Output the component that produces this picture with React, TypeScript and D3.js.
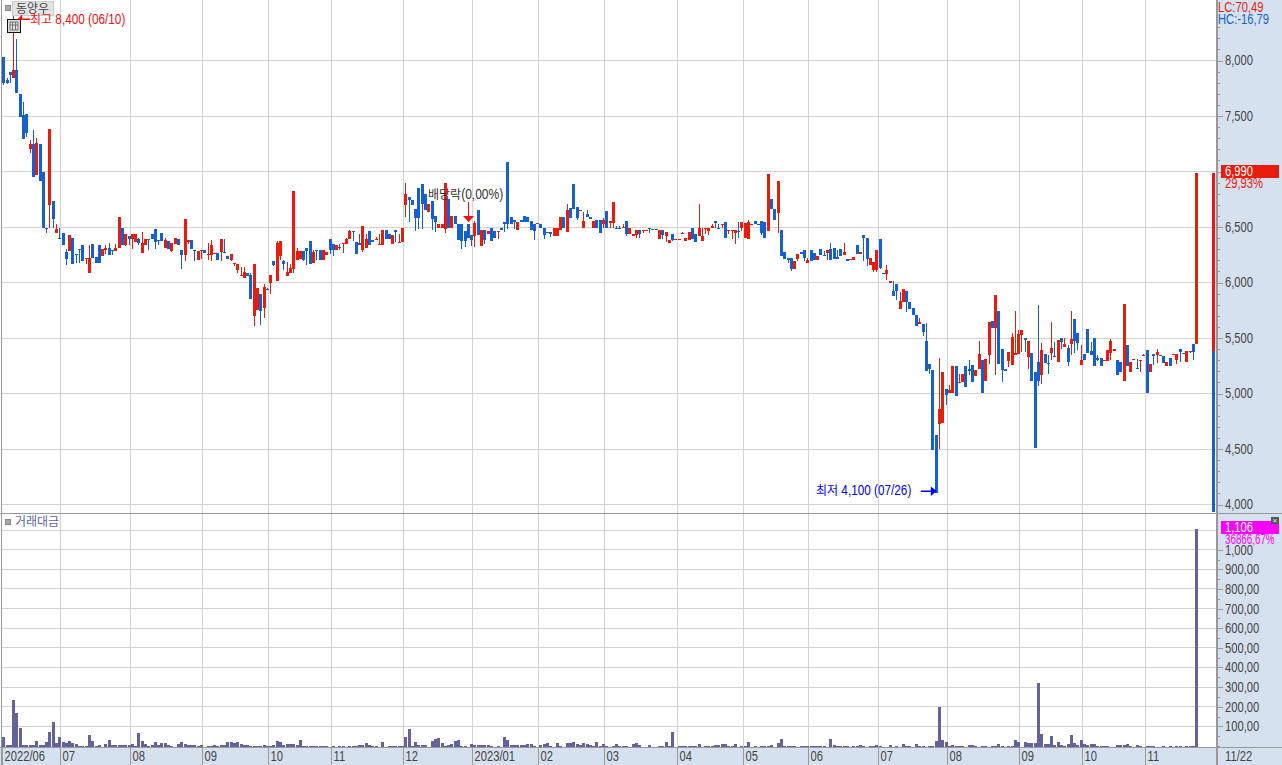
import * as d3 from "d3";
import { useEffect, useRef } from "react";

// prices, one value per trading day
const opens = [
  8030,7820,7900,7845,7910,7700,7510,7520,7200,7250,
  6970,7250,7000,6495,6700,6730,6445,6405,6450,6275,
  6280,6405,6260,6305,6340,6210,6085,6350,6230,6340,
  6240,6295,6315,6295,6285,6315,6490,6340,6420,6395,
  6365,6395,6265,6335,6395,6435,6480,6385,6450,6310,
  6370,6285,6350,6395,6290,6245,6365,6380,6295,6200,
  6285,6290,6250,6250,6265,6270,6275,6275,6240,6200,
  6170,6117,6055,6037,6082,6072,5694,5748,5892,5766,
  5937,5991,6198,6018,6243,6198,6055,6090,6126,6207,
  6216,6282,6315,6370,6175,6295,6289,6199,6247,6388,
  6349,6289,6322,6346,6346,6391,6460,6364,6352,6289,
  6310,6460,6385,6379,6340,6337,6469,6439,6343,6469,
  6355,6361,6694,6766,6739,6661,6847,6883,6799,6634,
  6733,6598,6493,6493,6484,6754,6493,6595,6523,6523,
  6460,6523,6424,6421,6649,6325,6469,6439,6493,6460,
  6451,6493,6541,7090,6586,6565,6469,6565,6595,6586,
  6550,6529,6523,6523,6487,6454,6457,6415,6415,6469,
  6586,6454,6673,6883,6679,6650,6487,6619,6592,6487,
  6559,6559,6529,6640,6532,6535,6493,6493,6493,6550,
  6439,6415,6424,6475,6470,6472,6493,6485,6484,6388,
  6469,6415,6352,6433,6392,6392,6437,6370,6385,6493,
  6439,6415,6370,6478,6460,6487,6550,6493,6523,6541,
  6463,6469,6445,6468,6490,6397,6388,6514,6550,6525,
  6550,6541,6460,6748,6664,6622,6469,6271,6217,6217,
  6118,6208,6271,6289,6172,6289,6262,6199,6298,6252,
  6262,6298,6307,6229,6298,6244,6208,6202,6199,6334,
  6253,6424,6397,6160,6109,6109,6388,6090,6073,5994,
  5919,5982,5757,5820,5919,5820,5766,5703,5622,5622,
  5469,5262,5208,4630,4728,4737,5037,5001,5001,5244,
  5091,5100,5244,5217,5253,5154,5217,5298,5109,5343,
  5649,5586,5739,5397,5217,5289,5253,5346,5352,5523,
  5496,5325,5361,5190,5280,5163,5352,5274,5361,5340,
  5280,5496,5415,5406,5442,5667,5541,5253,5352,5577,
  5379,5496,5316,5316,5289,5289,5361,5379,5298,5280,
  5109,5433,5190,5298,5226,5289,5334,5388,5190,5352,
  5343,5343,5334,5244,5316,5343,5298,5397,5361,5280,
  5370,5442,5442,
];
const closes = [
  7800,7800,7870,7910,7705,7490,7290,7345,7250,6950,
  7260,6915,6495,6490,7380,6575,6480,6400,6335,6215,
  6425,6165,6245,6290,6190,6225,6225,6220,6175,6180,
  6300,6310,6245,6285,6315,6590,6340,6435,6390,6435,
  6435,6360,6355,6395,6390,6390,6365,6370,6370,6380,
  6305,6360,6400,6340,6245,6575,6380,6305,6285,6285,
  6290,6265,6260,6335,6270,6205,6390,6270,6215,6255,
  6180,6171,6072,6091,6055,5847,6171,5946,5739,5955,
  5928,6072,6162,6352,6370,6171,6099,6135,6820,6282,
  6282,6207,6288,6171,6271,6283,6199,6295,6271,6289,
  6289,6337,6316,6352,6391,6463,6451,6253,6334,6505,
  6388,6340,6361,6391,6345,6469,6391,6391,6427,6457,
  6364,6493,6793,6745,6697,6577,6577,6709,6649,6709,
  6574,6541,6523,6523,6898,6493,6598,6523,6379,6373,
  6376,6403,6379,6535,6424,6469,6379,6460,6373,6397,
  6460,6469,6523,6523,6529,6544,6544,6541,6541,6541,
  6469,6463,6532,6487,6424,6450,6439,6493,6493,6589,
  6493,6649,6583,6661,6583,6655,6553,6589,6568,6553,
  6493,6445,6565,6490,6550,6721,6490,6490,6502,6439,
  6493,6439,6475,6433,6475,6475,6481,6480,6469,6475,
  6427,6451,6379,6385,6394,6394,6442,6397,6451,6391,
  6361,6493,6421,6493,6493,6505,6532,6490,6529,6397,
  6475,6475,6475,6465,6541,6532,6541,6529,6523,6520,
  6442,6397,6973,6658,6559,6910,6235,6208,6199,6118,
  6190,6253,6253,6217,6199,6190,6199,6241,6244,6248,
  6289,6199,6214,6208,6241,6271,6190,6208,6226,6253,
  6271,6397,6208,6217,6181,6289,6130,6085,6109,6018,
  5874,5919,5829,5937,5826,5757,5703,5604,5640,5550,
  5199,5217,4488,4100,4857,5190,4983,5028,5244,4974,
  5100,5172,5055,5199,5100,5208,5352,5001,5307,5640,
  5586,5883,5262,5208,5199,5370,5505,5361,5532,5568,
  5478,5469,5109,4506,5109,5388,5271,5268,5406,5334,
  5478,5460,5442,5280,5487,5469,5451,5298,5298,5361,
  5343,5244,5298,5244,5298,5388,5469,5397,5163,5190,
  5802,5244,5280,5307,5220,5298,5343,5001,5262,5334,
  5370,5334,5271,5280,5244,5352,5352,5370,5352,5379,
  5379,5370,6990,
];
const highs = [
  8030,7840,7900,8400,8195,7700,7630,7520,7285,7370,
  7300,7250,7000,6495,7380,6730,6530,6495,6450,6300,
  6430,6405,6260,6305,6340,6225,6340,6350,6230,6340,
  6300,6340,6355,6295,6350,6590,6490,6435,6420,6435,
  6435,6405,6455,6395,6395,6435,6480,6385,6450,6400,
  6370,6360,6400,6395,6290,6575,6380,6380,6295,6285,
  6290,6290,6360,6385,6270,6270,6390,6390,6240,6255,
  6180,6171,6138,6138,6082,6082,6171,5946,5892,5982,
  5949,6072,6198,6370,6370,6207,6189,6168,6820,6315,
  6282,6282,6315,6370,6295,6295,6289,6295,6271,6388,
  6349,6337,6343,6352,6400,6475,6460,6364,6439,6505,
  6439,6460,6385,6409,6439,6469,6469,6439,6427,6469,
  6439,6493,6895,6766,6739,6661,6847,6883,6799,6709,
  6733,6598,6523,6530,6898,6754,6598,6595,6523,6523,
  6460,6523,6424,6550,6649,6469,6469,6460,6493,6460,
  6460,6493,6541,7090,6586,6565,6544,6565,6595,6586,
  6550,6529,6532,6523,6487,6454,6457,6493,6493,6589,
  6586,6703,6673,6883,6679,6655,6634,6649,6592,6553,
  6559,6559,6577,6640,6550,6721,6505,6505,6523,6550,
  6493,6439,6475,6475,6475,6475,6493,6485,6484,6475,
  6469,6451,6379,6433,6394,6394,6451,6403,6451,6493,
  6439,6703,6493,6493,6493,6529,6550,6529,6529,6541,
  6475,6475,6475,6541,6541,6532,6559,6529,6550,6525,
  6550,6541,6973,6748,6664,6910,6469,6271,6217,6217,
  6190,6253,6271,6289,6217,6289,6262,6241,6298,6280,
  6289,6352,6307,6289,6298,6352,6208,6208,6226,6334,
  6271,6424,6397,6217,6181,6289,6388,6090,6154,6018,
  6018,5982,5910,5937,5919,5820,5766,5703,5676,5622,
  5631,5262,5208,4630,5316,5190,5037,5073,5244,5244,
  5172,5172,5244,5298,5253,5208,5469,5298,5307,5640,
  5649,5883,5739,5397,5217,5370,5541,5739,5568,5568,
  5496,5469,5361,5190,5793,5451,5352,5343,5640,5460,
  5478,5496,5496,5433,5739,5667,5541,5433,5352,5577,
  5460,5496,5343,5316,5298,5388,5487,5397,5298,5280,
  5802,5433,5280,5307,5307,5298,5352,5388,5262,5352,
  5397,5343,5334,5280,5316,5352,5352,5397,5361,5379,
  5379,5442,6990,
];
const lows = [
  7780,7790,7800,7840,7705,7490,7290,7310,7165,6950,
  6970,6915,6495,6445,6490,6490,6445,6400,6335,6155,
  6280,6165,6175,6180,6190,6170,6085,6220,6175,6180,
  6240,6255,6245,6250,6285,6315,6340,6330,6335,6305,
  6365,6335,6265,6335,6290,6390,6305,6340,6370,6310,
  6305,6275,6350,6340,6125,6195,6350,6305,6195,6200,
  6215,6265,6200,6190,6265,6205,6190,6270,6215,6190,
  6150,6090,6055,6037,6055,5847,5604,5748,5613,5676,
  5928,5892,6153,6018,6207,6117,6055,6090,6090,6207,
  6216,6198,6162,6171,6175,6199,6199,6199,6247,6259,
  6241,6289,6289,6265,6346,6391,6373,6253,6334,6274,
  6310,6340,6361,6379,6340,6337,6391,6391,6343,6364,
  6355,6361,6589,6544,6697,6463,6484,6484,6649,6634,
  6469,6454,6493,6493,6445,6493,6493,6523,6379,6301,
  6319,6403,6325,6319,6424,6325,6343,6439,6373,6397,
  6394,6469,6451,6484,6529,6484,6469,6541,6541,6541,
  6469,6385,6523,6487,6391,6450,6409,6415,6415,6469,
  6493,6454,6583,6661,6565,6650,6487,6589,6568,6487,
  6493,6445,6487,6490,6487,6487,6490,6490,6493,6415,
  6439,6415,6400,6400,6445,6472,6445,6480,6469,6388,
  6388,6364,6352,6373,6392,6392,6437,6370,6385,6391,
  6361,6415,6370,6439,6424,6487,6490,6490,6487,6397,
  6439,6388,6343,6397,6460,6397,6388,6514,6523,6520,
  6430,6397,6460,6658,6559,6445,6235,6208,6175,6103,
  6118,6193,6253,6190,6172,6190,6199,6199,6244,6248,
  6199,6199,6214,6208,6241,6244,6190,6202,6199,6253,
  6253,6190,6145,6160,6091,6091,6118,6085,6019,5994,
  5874,5838,5757,5820,5730,5757,5703,5604,5622,5514,
  5199,5172,4488,4100,4497,4737,4893,5001,5001,4974,
  5091,5100,5055,5163,5100,5154,5217,5001,5109,5262,
  5586,5163,5262,5103,5199,5238,5253,5346,5352,5370,
  5373,5217,5109,4506,5064,5088,5271,5178,5298,5325,
  5280,5397,5415,5244,5343,5361,5388,5253,5298,5361,
  5343,5244,5289,5244,5289,5289,5298,5379,5163,5190,
  5109,5244,5190,5298,5220,5193,5334,5001,5190,5253,
  5271,5334,5271,5244,5244,5343,5268,5280,5352,5280,
  5361,5298,5442,
];

// 거래대금 per trading day, 0 means no bar was visible
const turnover = [
  44,7,3,232,167,94,7,5,3,7,
  27,3,7,22,73,124,14,48,19,14,
  27,15,12,2,2,2,58,24,2,7,
  0,10,32,5,3,3,3,3,3,12,
  1,68,27,10,2,5,22,5,14,14,
  5,1,0,10,22,10,5,3,3,2,
  3,0,1,1,7,2,7,3,19,19,
  17,22,8,5,3,2,1,1,1,7,
  1,2,7,27,19,7,10,10,10,7,
  32,2,2,2,2,1,1,2,2,0,
  1,0,1,1,0,1,2,2,3,3,
  17,4,2,2,0,22,0,2,1,1,
  1,1,48,87,1,22,4,4,7,0,
  24,37,43,14,1,7,10,24,31,2,
  1,0,12,4,5,7,5,7,1,0,
  1,0,48,32,5,7,7,4,4,10,
  12,2,0,3,10,17,1,0,17,2,
  0,17,14,22,8,7,17,10,7,1,
  22,1,12,1,0,1,10,2,2,1,
  0,10,15,7,0,0,7,0,0,2,
  1,22,1,73,0,1,1,2,1,1,
  1,12,0,1,1,1,7,7,12,12,
  2,2,12,0,2,1,22,0,1,0,
  1,1,1,7,0,17,37,2,2,2,
  2,0,1,2,2,2,2,1,1,1,
  0,37,7,1,2,1,1,0,1,2,
  7,1,0,1,2,7,1,0,0,7,
  0,1,0,12,2,1,0,12,2,1,
  0,1,2,27,201,32,22,1,7,2,
  1,2,0,7,7,2,0,2,2,0,
  2,2,12,2,0,2,1,32,20,0,
  22,17,17,17,320,63,8,12,53,7,
  22,7,2,12,58,17,7,32,12,7,
  10,10,2,1,1,2,0,0,7,4,
  4,12,2,0,7,1,0,1,1,1,
  0,0,2,0,2,0,2,1,0,1,
  1,2,1106,
];

const monthStarts = [0, 18, 39, 61, 81, 100, 122, 143, 163, 183, 205, 225, 245, 266, 287, 309, 328, 347];
const monthLabels = ["2022/06", "07", "08", "09", "10", "11", "12", "2023/01", "02", "03", "04", "05", "06", "07", "08", "09", "10", "11"];
const priceTicks = [4000, 4500, 5000, 5500, 6000, 6500, 7000, 7500, 8000];
const turnoverTicks = [100, 200, 300, 400, 500, 600, 700, 800, 900, 1000];

const RED = "#e81c0c";
const BLUE = "#1560cf";
const VIOLET = "#63639c";
const PANEL = "#d6e1f0";
const GRID = "#d3d3d3";
const EDGE = "#999";
const FONT = "'Liberation Sans', sans-serif";
const KR_FONT = "'Noto Sans CJK KR', sans-serif";

// 원본 글자는 좁고 높아서 가로로 눌러서 맞춘다
function squeeze(node: SVGTextElement, factor: number) {
  const w = node.getComputedTextLength();
  if (w > 0) {
    node.setAttribute("textLength", String(w * factor));
    node.setAttribute("lengthAdjust", "spacingAndGlyphs");
  }
  return w * factor;
}

export default function App() {
  const svgRef = useRef<SVGSVGElement>(null);

  useEffect(() => {
    if (!svgRef.current) return;
    const svg = d3.select(svgRef.current);
    svg.selectAll("*").remove();

    const plotRight = 1216;
    const x = d3.scaleLinear().domain([0, 362]).range([3.3, 1196.1]);
    const yPrice = d3.scaleLinear().domain([4000, 8000]).range([504.5, 60.5]);
    const yTurn = d3.scaleLinear().domain([0, 1000]).range([746, 549.7]);
    const crisp = (v: number) => Math.floor(v) + 0.5;
    const monthX = (i: number) => (i === 0 ? 2 : x(i - 0.5));

    // 오른쪽 / 아래 패널
    svg.append("rect").attr("x", 1216).attr("y", 0).attr("width", 66).attr("height", 765).attr("fill", PANEL);
    svg.append("rect").attr("x", 0).attr("y", 748).attr("width", 1282).attr("height", 17).attr("fill", PANEL);

    // 격자
    const grid = svg.append("g").attr("stroke", GRID).attr("shape-rendering", "crispEdges");
    priceTicks.forEach((p) => {
      grid.append("line").attr("x1", 2).attr("x2", plotRight).attr("y1", crisp(yPrice(p))).attr("y2", crisp(yPrice(p)));
    });
    [...turnoverTicks, 1100].forEach((v) => {
      grid.append("line").attr("x1", 2).attr("x2", plotRight).attr("y1", crisp(yTurn(v))).attr("y2", crisp(yTurn(v)));
    });
    monthStarts.slice(1).forEach((m) => {
      const mx = crisp(monthX(m));
      grid.append("line").attr("x1", mx).attr("x2", mx).attr("y1", 0).attr("y2", 747);
    });

    // 캔들
    const candles = svg.append("g").attr("shape-rendering", "crispEdges");
    opens.forEach((o, i) => {
      const c = closes[i];
      const color = c >= o ? RED : BLUE;
      const cx = Math.round(x(i));
      candles
        .append("rect")
        .attr("x", cx)
        .attr("width", 1)
        .attr("y", yPrice(highs[i]))
        .attr("height", Math.max(1, yPrice(lows[i]) - yPrice(highs[i])))
        .attr("fill", color);
      candles
        .append("rect")
        .attr("x", cx - 1)
        .attr("width", 3)
        .attr("y", yPrice(Math.max(o, c)))
        .attr("height", Math.max(1, Math.abs(yPrice(o) - yPrice(c))))
        .attr("fill", color);
    });

    // 오른쪽 끝 현재가 막대
    const rangeX = x(367.3);
    svg.append("rect").attr("x", rangeX - 1.5).attr("width", 3).attr("y", yPrice(6990)).attr("height", yPrice(5380) - yPrice(6990)).attr("fill", RED).attr("shape-rendering", "crispEdges");
    svg.append("rect").attr("x", rangeX - 1.5).attr("width", 3).attr("y", yPrice(5380)).attr("height", yPrice(3930) - yPrice(5380)).attr("fill", BLUE).attr("shape-rendering", "crispEdges");

    // 거래대금 막대
    svg
      .append("g")
      .attr("shape-rendering", "crispEdges")
      .selectAll("rect")
      .data(turnover)
      .join("rect")
      .attr("x", (_, i) => Math.round(x(i)) - 1)
      .attr("width", 3)
      .attr("y", (d) => yTurn(d))
      .attr("height", (d) => (d > 0 ? 747 - yTurn(d) : 0))
      .attr("fill", VIOLET);

    // 테두리
    const frame = svg.append("g").attr("stroke", EDGE).attr("shape-rendering", "crispEdges");
    frame.append("line").attr("x1", 1.5).attr("x2", 1.5).attr("y1", 0).attr("y2", 765);
    frame.append("line").attr("x1", 1216.5).attr("x2", 1216.5).attr("y1", 0).attr("y2", 765).attr("stroke-width", 2);
    frame.append("line").attr("x1", 0).attr("x2", 1282).attr("y1", 513.5).attr("y2", 513.5);
    frame.append("line").attr("x1", 0).attr("x2", 1282).attr("y1", 747.5).attr("y2", 747.5);

    const styleAxis = (g: d3.Selection<SVGGElement, unknown, null, undefined>) => {
      g.attr("font-family", FONT).attr("font-size", 14).attr("fill", "none");
      g.select(".domain").remove();
      g.selectAll("line").attr("stroke", EDGE).attr("shape-rendering", "crispEdges");
      g.selectAll<SVGTextElement, unknown>("text")
        .attr("fill", "#444")
        .each(function () {
          squeeze(this, 0.8);
        });
    };

    // 가격 축 (7,000 은 현재가 표시에 가려져 있음)
    svg
      .append("g")
      .attr("transform", "translate(1217,0)")
      .call(d3.axisRight(yPrice).tickValues(d3.range(4000, 8400, 100)).tickSize(3).tickFormat(() => ""))
      .call(styleAxis);
    svg
      .append("g")
      .attr("transform", "translate(1217,0)")
      .call(
        d3
          .axisRight(yPrice)
          .tickValues(priceTicks)
          .tickSize(6)
          .tickPadding(2)
          .tickFormat((d) => (+d === 7000 ? "" : d3.format(",")(+d)))
      )
      .call(styleAxis);

    // 거래대금 축
    svg
      .append("g")
      .attr("transform", "translate(1217,0)")
      .call(d3.axisRight(yTurn).tickValues(d3.range(0, 1050, 50)).tickSize(3).tickFormat(() => ""))
      .call(styleAxis);
    svg
      .append("g")
      .attr("transform", "translate(1217,0)")
      .call(
        d3
          .axisRight(yTurn)
          .tickValues(turnoverTicks)
          .tickSize(6)
          .tickPadding(2)
          .tickFormat((d) => (+d === 1000 ? "1,000" : `${d},00`))
      )
      .call(styleAxis);

    // 한글은 12px 그대로, 숫자는 14px 를 눌러서
    const label = (tx: number, ty: number, text: string, fill: string, factor = 0.8, size = 14) => {
      let cursor = tx;
      (text.match(/[가-힣]+|[^가-힣]+/g) ?? []).forEach((run) => {
        const kr = /[가-힣]/.test(run);
        const t = svg
          .append("text")
          .attr("x", cursor)
          .attr("y", ty)
          .attr("fill", fill)
          .attr("font-family", kr ? KR_FONT : FONT)
          .attr("font-size", kr ? 12 : size)
          .style("white-space", "pre")
          .text(run);
        const node = t.node() as SVGTextElement;
        cursor += kr ? node.getComputedTextLength() : squeeze(node, factor);
      });
    };

    // 날짜 축
    monthStarts.forEach((m, i) => {
      const mx = crisp(monthX(m));
      svg.append("line").attr("x1", mx).attr("x2", mx).attr("y1", 748).attr("y2", 765).attr("stroke", EDGE).attr("shape-rendering", "crispEdges");
      label(mx + 2, 761, monthLabels[i], "#444");
    });
    label(1225, 761, "11/22", "#444");

    // 오른쪽 값 표시
    label(1218, 11.5, "LC:70,49", RED);
    label(1218, 24, "HC:-16,79", BLUE);
    svg.append("rect").attr("x", 1221).attr("y", 165).attr("width", 58).attr("height", 13).attr("fill", RED);
    label(1225, 176, "6,990", "#fff");
    label(1225, 188, "29,93%", RED);
    svg.append("rect").attr("x", 1221).attr("y", 521).attr("width", 58).attr("height", 13).attr("fill", "#ff00ff");
    label(1225, 532, "1,106", "#fff");
    label(1225, 544, "36866,67%", "#ff00ff", 0.7);
    svg.append("rect").attr("x", 1271).attr("y", 517).attr("width", 8).attr("height", 7).attr("fill", "#555");
    label(1272.5, 523, "×", "#fff", 1, 8);

    // 배당락
    const divX = Math.round(x(141));
    label(428, 199, "배당락(0,00%)", "#333", 0.86);
    svg.append("line").attr("x1", divX + 0.5).attr("x2", divX + 0.5).attr("y1", 202).attr("y2", 216).attr("stroke", "#f01010").attr("shape-rendering", "crispEdges");
    svg.append("path").attr("d", `M${divX - 5},216 h11 l-5.5,6 z`).attr("fill", "#f01010");

    // 종목명 / 아이콘
    svg.append("rect").attr("x", 5.5).attr("y", 5.5).attr("width", 5).attr("height", 5).attr("fill", "#aaa").attr("stroke", "#888");
    svg.append("rect").attr("x", 12.5).attr("y", 1.5).attr("width", 41).attr("height", 14).attr("fill", "#e4e4e4").attr("stroke", "#ccc");
    label(16, 13, "동양우", "#444");
    svg.append("rect").attr("x", 7.5).attr("y", 19.5).attr("width", 13).attr("height", 13).attr("fill", "#ddd").attr("stroke", "#111");
    svg.append("rect").attr("x", 10).attr("y", 22).attr("width", 8).attr("height", 8).attr("fill", "none").attr("stroke", "#777");
    svg.append("path").attr("d", "M12.5,22 v8 M15.5,22 v8 M10,25 h8").attr("stroke", "#777");

    // 최고 / 최저
    const maxX = x(3);
    svg.append("path").attr("d", `M${maxX + 4},19.5 l5,-5 v4 h8 v1.5 h-8 z`).attr("fill", "#f01010");
    label(30, 24, "최고 8,400 (06/10)", "#f01010", 0.84);
    const minX = x(283);
    label(816, 495, "최저 4,100 (07/26)", "#0000f0", 0.84);
    svg.append("path").attr("d", `M${minX - 15},490.5 h10 v-4 l6,4.5 l-6,5 v-4 h-10 z`).attr("fill", "#0000f0");

    svg.append("rect").attr("x", 5.5).attr("y", 519.5).attr("width", 5).attr("height", 5).attr("fill", "#aaa").attr("stroke", "#888");
    label(15, 526, "거래대금", VIOLET);
  }, []);

  return (
    <svg
      ref={svgRef}
      width={1282}
      height={765}
      style={{ position: "absolute", left: 0, top: 0, background: "#fff" }}
    />
  );
}
